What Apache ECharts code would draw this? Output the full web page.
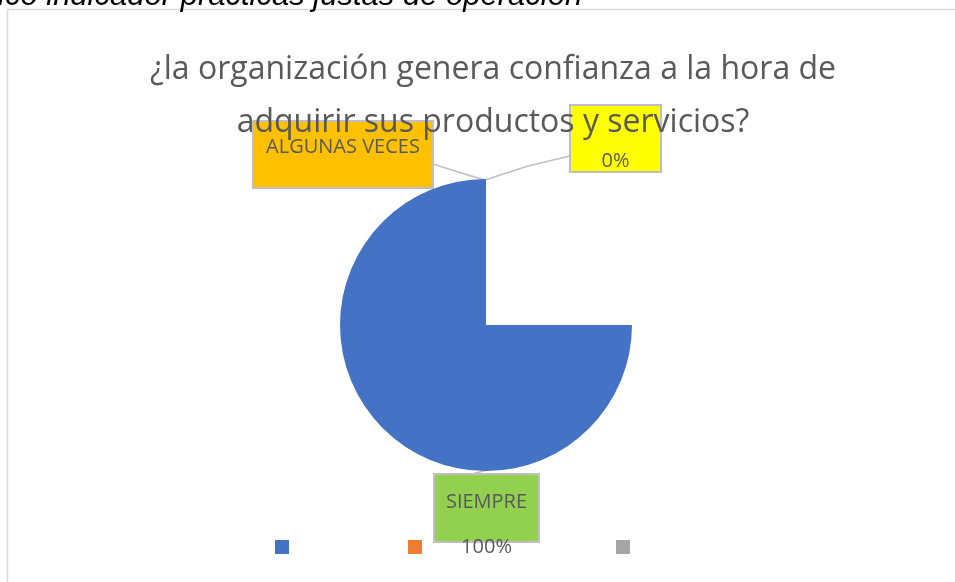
<!DOCTYPE html>
<html>
<head>
<meta charset="utf-8">
<script src="https://cdn.jsdelivr.net/npm/echarts@6/dist/echarts.min.js"></script>
<style>
  html, body { margin: 0; padding: 0; background: #fff; }
  #main { width: 955px; height: 582px; }
</style>
</head>
<body>
<div id="main"></div>
<script>
// datos de la gráfica
const categorias = ['SIEMPRE', 'ALGUNAS VECES', 'NUNCA']
const valores = [100, 0, 0]
const colores = ['#4472c4', '#ed7d31', '#a5a5a5']
const titulo = '¿la organización genera confianza a la hora de\nadquirir sus productos y servicios?'
const encabezado = 'ico indicador prácticas justas de operación'

const chart = echarts.init(document.getElementById('main'))

// estilo de cada etiqueta (cuadro tipo "callout" de Excel)
const baseLabel = {
    show: true,
    color: '#595959',
    fontFamily: 'Open Sans',
    fontSize: 20,
    borderColor: '#bfbfbf',
    borderWidth: 2,
    align: 'center',
    verticalAlign: 'top'
}
const labelStyles = [
    { backgroundColor: '#92d050', width: 103, height: 61, padding: [5, 0, 0, 0], lineHeight: 45,
      formatter: p => p.name + '\n' + p.percent + '%' },
    { backgroundColor: '#ffc000', width: 178, height: 55, padding: [10, 0, 0, 0], lineHeight: 30,
      formatter: p => p.name },
    { backgroundColor: '#ffff00', width: 89, height: 25, padding: [40, 0, 0, 0], lineHeight: 30,
      formatter: p => p.percent + '%' }
]
// posición de cada cuadro: [centro x, arriba y] y puntos de la línea guía
const labelPos = [
    { x: 486.5, y: 475, line: [[487, 470], [472, 474], [456, 476]] },
    { x: 343, y: 122, line: [[485, 180], [458, 172], [433, 164]] },
    { x: 615.5, y: 106, line: [[485, 180], [528, 166], [570, 156]] }
]

const option = {
    animation: false,
    color: colores,
    title: {
        text: titulo,
        left: 488,
        textAlign: 'center',
        top: 38,
        textStyle: {
            color: '#595959',
            fontFamily: 'Open Sans',
            fontWeight: 'normal',
            fontSize: 32,
            lineHeight: 53
        }
    },
    graphic: [
        {
            type: 'rect',
            shape: { x: 7.5, y: 9.5, width: 1000, height: 620 },
            style: { fill: 'none', stroke: '#d9d9d9', lineWidth: 1.5 },
            silent: true
        },
        {
            type: 'text',
            x: -2,
            y: 12,
            style: {
                text: encabezado,
                font: 'italic 31px "Liberation Sans", Arial, sans-serif',
                fill: '#000',
                verticalAlign: 'bottom'
            },
            silent: true
        }
    ],
    legend: [
        { left: 270 }, { left: 403 }, { left: 611 }
    ].map((l, i) => ({
        left: l.left,
        top: 535,
        data: [categorias[i]],
        icon: 'rect',
        itemWidth: 14,
        itemHeight: 14,
        formatter: () => '',
        selectedMode: false
    })),
    series: [{
        type: 'pie',
        center: [486, 325],
        radius: 146,
        startAngle: 0,
        endAngle: -270,
        clockwise: true,
        avoidLabelOverlap: false,
        itemStyle: { borderWidth: 0 },
        labelLine: {
            show: true,
            lineStyle: { color: '#bfbfbf', width: 1.5 }
        },
        labelLayout: params => {
            const p = labelPos[params.dataIndex]
            return {
                x: p.x,
                y: p.y,
                align: 'center',
                verticalAlign: 'top',
                labelLinePoints: p.line
            }
        },
        data: categorias.map((name, i) => ({
            name: name,
            value: valores[i],
            label: Object.assign({}, baseLabel, labelStyles[i])
        }))
    }]
}

chart.setOption(option)
</script>
</body>
</html>
